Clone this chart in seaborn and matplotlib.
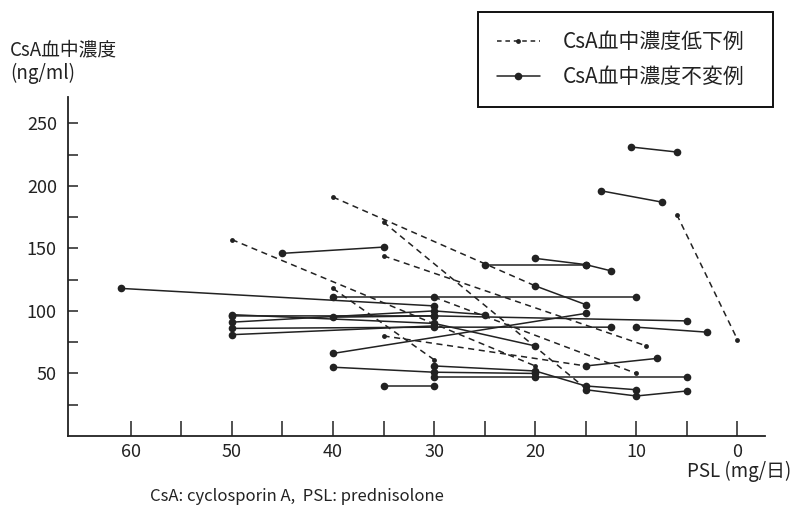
import matplotlib
matplotlib.use("Agg")
import matplotlib.pyplot as plt
from matplotlib.lines import Line2D
import seaborn as sns
import pandas as pd

# ---- data (PSL dose mg/day, CsA level ng/ml), one id per patient segment ----
dashed_id  = [1, 1, 2, 2, 3, 3, 4, 4, 5, 5, 6, 6, 7, 7, 8, 8]
dashed_psl = [50, 20, 40, 20, 35, 15, 35, 9, 40, 30, 35, 15, 30, 10, 6, 0]
dashed_csa = [157, 56, 191, 120, 171, 38, 144, 72, 118, 61, 80, 56, 111, 50, 177, 77]

solid_id  = [1, 1, 2, 2, 3, 3, 3, 4, 4, 4, 5, 5, 5, 6, 6, 6, 7, 7, 7, 8, 8,
             9, 9, 10, 10, 11, 11, 11, 12, 12, 13, 13, 13, 14, 14, 14, 14,
             15, 15, 15, 16, 16, 17, 17, 18, 18, 18, 19, 19, 20, 20, 21, 21, 22, 22]
solid_psl = [61, 30, 45, 35, 40, 30, 10, 50, 30, 20, 50, 30, 5, 50, 30, 25, 50, 30, 12.5, 50, 30,
             40, 30, 40, 15, 40, 30, 20, 35, 30, 30, 20, 5, 30, 20, 15, 10,
             15, 10, 5, 15, 8, 25, 15, 20, 15, 12.5, 20, 15, 13.5, 7.5, 10.5, 6, 10, 3]
solid_csa = [118, 104, 146, 151, 111, 111, 111, 97, 90, 72, 96, 96, 92, 91, 100, 97, 86, 87, 87, 81, 88,
             95, 96, 66, 98, 55, 51, 50, 40, 40, 47, 47, 47, 56, 52, 40, 37,
             37, 32, 36, 56, 62, 137, 137, 142, 137, 132, 120, 105, 196, 187, 231, 227, 87, 83]

y_label_lines = ["CsA血中濃度", "(ng/ml)"]
x_label = "PSL (mg/日)"
legend_labels = ["CsA血中濃度低下例", "CsA血中濃度不変例"]
footnote = "CsA: cyclosporin A,  PSL: prednisolone"
x_ticks = [60, 50, 40, 30, 20, 10, 0]
y_ticks = [50, 100, 150, 200, 250]

df_d = pd.DataFrame({"id": dashed_id, "psl": dashed_psl, "csa": dashed_csa})
df_s = pd.DataFrame({"id": solid_id, "psl": solid_psl, "csa": solid_csa})

sns.set_theme(style="white")
plt.rcParams["font.family"] = ["Noto Sans CJK JP", "DejaVu Sans"]

ink = "#222222"
fig = plt.figure(figsize=(7.95, 5.05), dpi=100)
ax = fig.add_axes([0.0855, 0.1366, 0.8765, 0.6714])

sns.lineplot(data=df_s, x="psl", y="csa", units="id", estimator=None, sort=False,
             color=ink, lw=1.1, marker="o", markersize=5.5, markeredgewidth=0,
             legend=False, ax=ax)
sns.lineplot(data=df_d, x="psl", y="csa", units="id", estimator=None, sort=False,
             color=ink, lw=1.1, linestyle=(0, (4, 3)), marker="o", markersize=3.5,
             markeredgewidth=0, legend=False, ax=ax)

ax.set_xlim(66.2, -2.7)
ax.set_ylim(0, 271)
ax.set_xlabel("")
ax.set_ylabel("")

ax.set_xticks(x_ticks)
ax.set_xticklabels([str(v) for v in x_ticks])
ax.set_xticks([55, 45, 35, 25, 15, 5], minor=True)
ax.set_yticks(y_ticks)
ax.set_yticklabels([str(v) for v in y_ticks])
ax.set_yticks([25, 75, 125, 175, 225], minor=True)

ax.tick_params(axis="x", which="both", direction="in", length=11, width=1.1,
               colors=ink, labelsize=13, pad=5, bottom=True)
ax.tick_params(axis="y", which="both", direction="in", length=7, width=1.1,
               colors=ink, labelsize=13, pad=8, left=True)
for s in ["top", "right"]:
    ax.spines[s].set_visible(False)
for s in ["left", "bottom"]:
    ax.spines[s].set_color(ink)
    ax.spines[s].set_linewidth(1.3)

fig.text(0.0126, 0.901, y_label_lines[0], fontsize=13.5, va="center", ha="left", color=ink)
fig.text(0.0126, 0.855, y_label_lines[1], fontsize=13.5, va="center", ha="left", color=ink)
fig.text(0.995, 0.066, x_label, fontsize=13.5, va="center", ha="right", color=ink)
fig.text(0.189, 0.016, footnote, fontsize=12, va="center", ha="left", color=ink)

handles = [
    Line2D([], [], color=ink, lw=1.1, linestyle=(0, (3, 2.5)), marker="o",
           markersize=3.5, markevery=[0, -1], markeredgewidth=0),
    Line2D([], [], color=ink, lw=1.1, marker="o", markersize=5.5,
           markevery=[0, -1], markeredgewidth=0),
]
leg = fig.legend(handles, legend_labels, loc="upper left",
                 bbox_to_anchor=(0.601, 0.788, 0.371, 0.188), mode="expand",
                 fontsize=15, frameon=True, fancybox=False, framealpha=1,
                 edgecolor="#111111", borderpad=0.9, labelspacing=0.63,
                 handlelength=2.1, handletextpad=1.1, borderaxespad=0)
leg.get_frame().set_linewidth(1.4)
for t in leg.get_texts():
    t.set_color(ink)

fig.savefig("out.png", dpi=100, facecolor="white")
